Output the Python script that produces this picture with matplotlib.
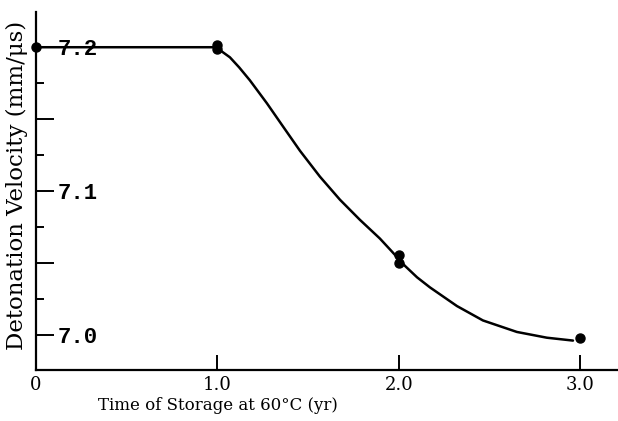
import matplotlib.pyplot as plt
from matplotlib.ticker import FixedLocator, MultipleLocator

# measured points (years, mm/us)
pt_x = [0.0, 1.0, 1.0, 2.0, 2.0, 3.0]
pt_y = [7.200, 7.2015, 7.1990, 7.0555, 7.0500, 6.998]

# fitted curve
curve_x = [0.0, 1.0, 1.025, 1.069, 1.12, 1.179, 1.273, 1.361, 1.455, 1.565, 1.675,
           1.785, 1.895, 1.961, 2.033, 2.10, 2.171, 2.320, 2.463, 2.650, 2.815, 2.959]
curve_y = [7.200, 7.200, 7.197, 7.193, 7.186, 7.177, 7.161, 7.145, 7.128, 7.110, 7.094,
           7.080, 7.067, 7.058, 7.048, 7.040, 7.033, 7.020, 7.010, 7.002, 6.998, 6.996]

x_ticks = [0.0, 1.0, 2.0, 3.0]
x_labels = ["0", "1.0", "2.0", "3.0"]
y_labeled = [7.0, 7.1, 7.2]

fig = plt.figure(figsize=(6.18, 4.21), dpi=100)
ax = fig.add_axes([0.058, 0.121, 0.942, 0.8505])

ax.plot(curve_x, curve_y, color="black", lw=1.8, zorder=2,
        solid_joinstyle="round", solid_capstyle="round")
ax.plot(pt_x, pt_y, "o", color="black", ms=6.5, clip_on=False, zorder=4)

ax.set_xlim(0, 3.207)
ax.set_ylim(6.9755, 7.2245)

ax.spines["top"].set_visible(False)
ax.spines["right"].set_visible(False)
for s in ("left", "bottom"):
    ax.spines[s].set_linewidth(1.6)

# x axis
ax.xaxis.set_major_locator(FixedLocator(x_ticks))
ax.set_xticklabels(x_labels, fontfamily="DejaVu Serif", fontsize=13)
ax.tick_params(axis="x", direction="in", length=11, width=1.4, pad=4)

# y axis: long ticks every 0.05, short every 0.025, labels inside
ax.yaxis.set_major_locator(MultipleLocator(0.05))
ax.yaxis.set_minor_locator(MultipleLocator(0.025))
ax.tick_params(axis="y", which="major", direction="in", length=13, width=1.4, pad=-15.5)
ax.tick_params(axis="y", which="minor", direction="in", length=6, width=1.4)

def ylab(v, pos):
    for t in y_labeled:
        if abs(v - t) < 1e-6:
            return "%.1f" % t
    return ""

ax.yaxis.set_major_formatter(ylab)
for lab in ax.get_yticklabels():
    lab.set_horizontalalignment("left")
    lab.set_fontfamily("Liberation Mono")
    lab.set_fontweight("bold")
    lab.set_fontsize(16)
    lab.set_bbox(dict(facecolor="white", edgecolor="none", pad=1))
    lab.set_zorder(3)

ax.set_xlabel("Time of Storage at 60°C (yr)", fontfamily="DejaVu Serif", fontsize=12)
ax.xaxis.set_label_coords(0.312, -0.075)
ax.set_ylabel("Detonation Velocity (mm/μs)", fontfamily="DejaVu Serif", fontsize=16.5)
ax.yaxis.label.set_va("center")
ax.yaxis.set_label_coords(-0.033, 0.517)

fig.savefig("out.png", dpi=100)
